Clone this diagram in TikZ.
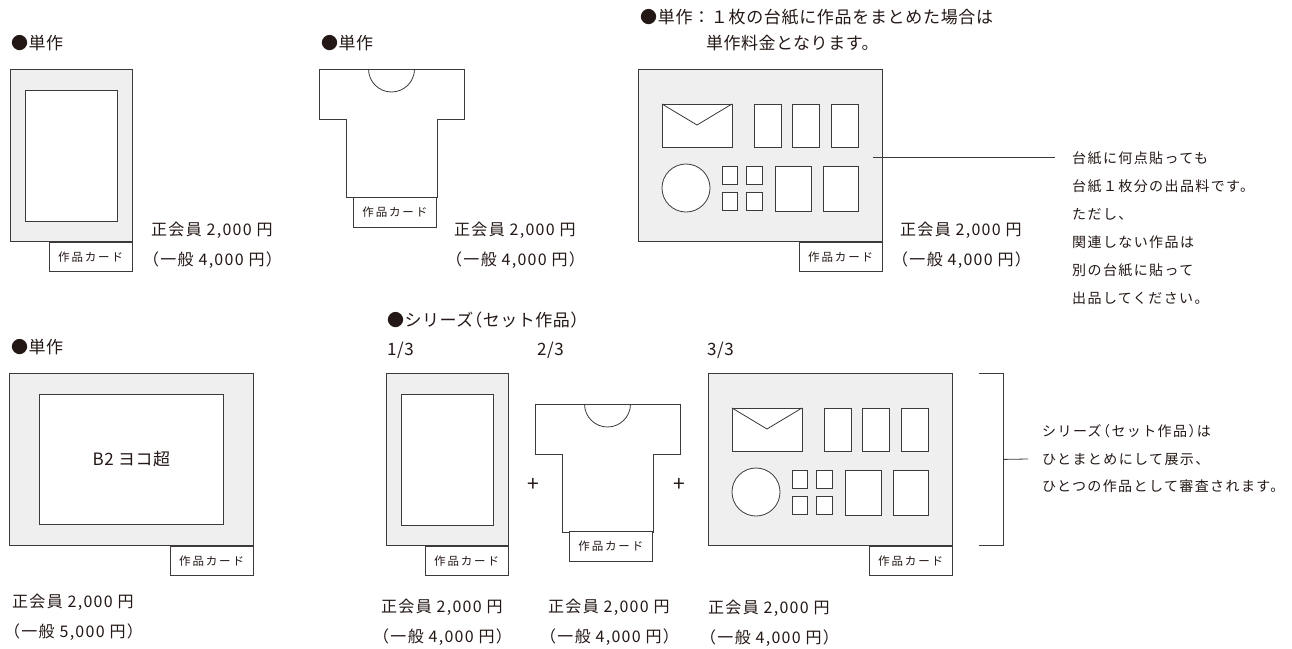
\documentclass[tikz,border=0pt]{standalone}
\usepackage{fontspec}
\setmainfont{Noto Sans CJK JP}
\newfontfamily\titlefont[LetterSpace=3,RawFeature=+halt]{Noto Sans CJK JP}
\newfontfamily\leadfont[LetterSpace=4]{Noto Sans CJK JP}
\newfontfamily\pricefont[LetterSpace=8,RawFeature=+halt]{Noto Sans CJK JP}
\newfontfamily\memofont[LetterSpace=10,RawFeature=+halt]{Noto Sans CJK JP}
\newfontfamily\cardfont[LetterSpace=16]{Noto Sans CJK JP}
\usepackage{tikz}
\usetikzlibrary{positioning, calc}
\definecolor{InkDark}{RGB}{35, 24, 21}
\definecolor{LineDark}{RGB}{62, 58, 57}
\definecolor{MountGray}{RGB}{239, 239, 239}
\tikzset{
	outline/.style={draw=LineDark, line width=0.8pt},
	mount/.style={outline, fill=MountGray, inner sep=0pt, anchor=north west},
	work/.style={outline, fill=white, inner sep=0pt, anchor=north west, text=InkDark, font=\titlefont\fontsize{17}{20}\selectfont},
	card/.style={outline, fill=white, inner sep=0pt, minimum width=83.5pt, minimum height=29.5pt, anchor=north east, text=InkDark, font=\cardfont\fontsize{11.5}{12}\selectfont},
	heading/.style={anchor=west, inner sep=0pt, text=InkDark, font=\titlefont\fontsize{17}{20}\selectfont},
	price/.style={anchor=west, inner sep=0pt, align=left, text=InkDark, font=\pricefont\fontsize{16}{30}\selectfont},
	memo/.style={anchor=west, inner sep=0pt, align=left, text=InkDark, font=\memofont\fontsize{14}{28}\selectfont},
	plus/.style={inner sep=0pt, text=InkDark, font=\fontsize{21}{21}\selectfont},
}
% pieces pasted on a mount, origin at its top left corner
\newcommand{\boardparts}{%
	\draw[outline, fill=white] (24,35) rectangle (94,78);
	\draw[outline] (24,35) -- (59,56) -- (94,35);
	\foreach \x in {116,154.5,193}
		\draw[outline, fill=white] (\x,35) rectangle ++(27,43);
	\draw[outline, fill=white] (48,119) circle[radius=24pt];
	\foreach \x in {84,108.5}
	\foreach \y in {97,123}
		\draw[outline, fill=white] (\x,\y) rectangle ++(15.5,18.5);
	\draw[outline, fill=white] (137,97) rectangle (173,142);
	\draw[outline, fill=white] (185,97) rectangle (220,142);
}
\newcommand{\shirtparts}{%
	\draw[outline, fill=white] (0,0) -- (145,0) -- (145,50) -- (118,50) -- (118,128) -- (27,128) -- (27,50) -- (0,50) -- cycle;
	\draw[outline] (49.5,0) arc[start angle=180, end angle=360, radius=23pt];
}

\begin{document}
\begin{tikzpicture}[x=1pt, y=-1pt]
	\useasboundingbox (0,0) rectangle (1292,648);

	% upper row
	\node[heading] (h1) at (11,43) {●単作};
	\node[mount, minimum width=122pt, minimum height=172pt] (fr1) at (10,69) {};
	\node[work, minimum width=92pt, minimum height=131pt] (fr1w) at (25,90) {};
	\node[card] (card1) at (fr1.south east) {作品カード};
	\node[price] (p1) at (151,245) {正会員 2,000 円\\（一般 4,000 円）};

	\node[heading] (h2) at (321,43) {●単作};
	\begin{scope}[shift={(319,69)}]
		\shirtparts
		\coordinate (s1foot) at (118,128);
	\end{scope}
	\node[card] (card2) at (s1foot) {作品カード};
	\node[price] (p2) at (454,245) {正会員 2,000 円\\（一般 4,000 円）};

	\node[heading] (h3) at (640,17) {\leadfont ●単作：１枚の台紙に作品をまとめた場合は};
	\node[heading] (h3b) at (706,43) {単作料金となります。};
	\node[mount, minimum width=244pt, minimum height=172pt] (b1) at (638,69) {};
	\begin{scope}[shift={(638,69)}]
		\boardparts
	\end{scope}
	\node[card] (card3) at (b1.south east) {作品カード};
	\node[price] (p3) at (900,245) {正会員 2,000 円\\（一般 4,000 円）};

	\node[memo] (memo) at (1072,228) {台紙に何点貼っても\\台紙１枚分の出品料です。\\ただし、\\関連しない作品は\\別の台紙に貼って\\出品してください。};
	\coordinate (memotip) at (1055,157);
	\coordinate (linestart) at ([shift={(-10,2)}]b1.east);
	\draw[outline] (linestart) -- (linestart -| memotip);

	% lower row
	\node[heading] (h4) at (11,347) {●単作};
	\node[mount, minimum width=244pt, minimum height=172pt] (fr4) at (9,373) {};
	\node[work, minimum width=184pt, minimum height=130pt] (fr4w) at (39,394) {B2 ヨコ超};
	\node[card] (card4) at (fr4.south east) {作品カード};
	\node[price] (p4) at (12,617) {正会員 2,000 円\\（一般 5,000 円）};

	\node[heading] (h5) at (387,320) {●シリーズ（セット作品）};
	\node[heading] (n1) at (387,350) {1/3};
	\node[heading] (n2) at (537,350) {2/3};
	\node[heading] (n3) at (707,350) {3/3};

	\node[mount, minimum width=122pt, minimum height=172pt] (fr5) at (386,373) {};
	\node[work, minimum width=92pt, minimum height=131pt] (fr5w) at (401,394) {};
	\node[card] (card5) at (fr5.south east) {作品カード};
	\node[price] (p5) at (381,622) {正会員 2,000 円\\（一般 4,000 円）};

	\node[plus] (plus1) at (533,485) {+};
	\begin{scope}[shift={(535,404)}]
		\shirtparts
		\coordinate (s2foot) at (118,127);
	\end{scope}
	\node[card] (card6) at (s2foot) {作品カード};
	\node[price] (p6) at (548,622) {正会員 2,000 円\\（一般 4,000 円）};
	\node[plus] (plus2) at (679,485) {+};

	\node[mount, minimum width=244pt, minimum height=172pt] (b3) at (708,373) {};
	\begin{scope}[shift={(708,373)}]
		\boardparts
	\end{scope}
	\node[card] (card7) at (b3.south east) {作品カード};
	\node[price] (p7) at (708,623) {正会員 2,000 円\\（一般 4,000 円）};

	% bracket round the set
	\node[memo, font=\memofont\fontsize{14}{27.5}\selectfont] (snote) at (1042,459) {シリーズ（セット作品）は\\ひとまとめにして展示、\\ひとつの作品として審査されます。};
	\draw[outline] ([xshift=26pt]b3.north east) -- ([xshift=51pt]b3.north east) -- ([xshift=51pt]b3.south east) -- ([xshift=26pt]b3.south east);
	\draw[outline] ([xshift=51pt]b3.east) -- ([xshift=-14pt]snote.west);
\end{tikzpicture}
\end{document}
